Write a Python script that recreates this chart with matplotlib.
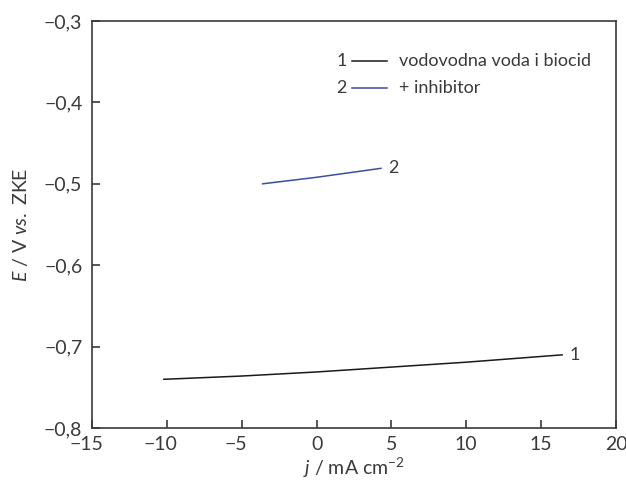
import matplotlib
matplotlib.use('Agg')
import matplotlib.pyplot as plt
import matplotlib.transforms as mtransforms
from matplotlib.ticker import FuncFormatter

plt.rcParams['font.family'] = ['Lato', 'DejaVu Sans']
plt.rcParams['mathtext.fontset'] = 'custom'
plt.rcParams['mathtext.rm'] = 'Lato'
plt.rcParams['mathtext.it'] = 'Lato:italic'

# curve 1: tap water + biocide
j1 = [-10.2, -5.0, 0.0, 5.0, 10.0, 16.4]
e1 = [-0.740, -0.736, -0.731, -0.725, -0.719, -0.710]
# curve 2: + inhibitor
j2 = [-3.6, 0.0, 4.3]
e2 = [-0.500, -0.492, -0.481]

labels = ["vodovodna voda i biocid", "+ inhibitor"]
colors = ["#1a1a1a", "#3a4fa0"]
txt = "#3a3a3a"
MINUS = "\u2212"

fig = plt.figure(figsize=(6.26, 4.86), dpi=100)
ax = fig.add_axes([0.147, 0.119, 0.837, 0.838])

ax.plot(j1, e1, color=colors[0], lw=1.1)
ax.plot(j2, e2, color=colors[1], lw=1.1)
ax.text(j1[-1] + 0.5, e1[-1], "1", fontsize=13, color=txt, va="center")
ax.text(j2[-1] + 0.5, e2[-1], "2", fontsize=13, color=txt, va="center")

# legend drawn by hand
for i, (lab, c) in enumerate(zip(labels, colors)):
    yy = 0.902 - i * 0.067
    ax.text(0.466, yy, str(i + 1), transform=ax.transAxes, fontsize=13,
            color=txt, va="center")
    ax.plot([0.496, 0.563], [yy, yy], transform=ax.transAxes, color=c, lw=1.1)
    ax.text(0.586, yy, lab, transform=ax.transAxes, fontsize=13,
            color=txt, va="center")

ax.set_xlim(-15, 20)
ax.set_ylim(-0.8, -0.3)
ax.set_xticks(range(-15, 21, 5))
ax.set_yticks([-0.8, -0.7, -0.6, -0.5, -0.4, -0.3])
ax.yaxis.set_major_formatter(FuncFormatter(lambda v, p: f"{v:.1f}".replace("-", MINUS).replace(".", ",")))
ax.xaxis.set_major_formatter(FuncFormatter(lambda v, p: f"{v:.0f}".replace("-", MINUS)))
ax.tick_params(direction="in", length=6, width=1.2, labelsize=14, colors=txt)
ax.tick_params(axis="y", pad=7)
ax.tick_params(axis="x", pad=6)
for s in ax.spines.values():
    s.set_color(txt)
    s.set_linewidth(1.2)

ax.set_xlabel(r"$j$ / mA cm$^{-2}$", fontsize=14, color=txt, labelpad=1.5)
ax.set_ylabel(r"$E$ / V $vs.$ ZKE", fontsize=14, color=txt, labelpad=10)

# negative x labels sit a bit left of their tick in the original
fig.canvas.draw()
shift = mtransforms.ScaledTranslation(-6 / 100, 0, fig.dpi_scale_trans)
for tick in ax.xaxis.get_major_ticks():
    if tick.get_loc() < 0:
        tick.label1.set_transform(tick.label1.get_transform() + shift)

fig.savefig("out.png", dpi=100)
